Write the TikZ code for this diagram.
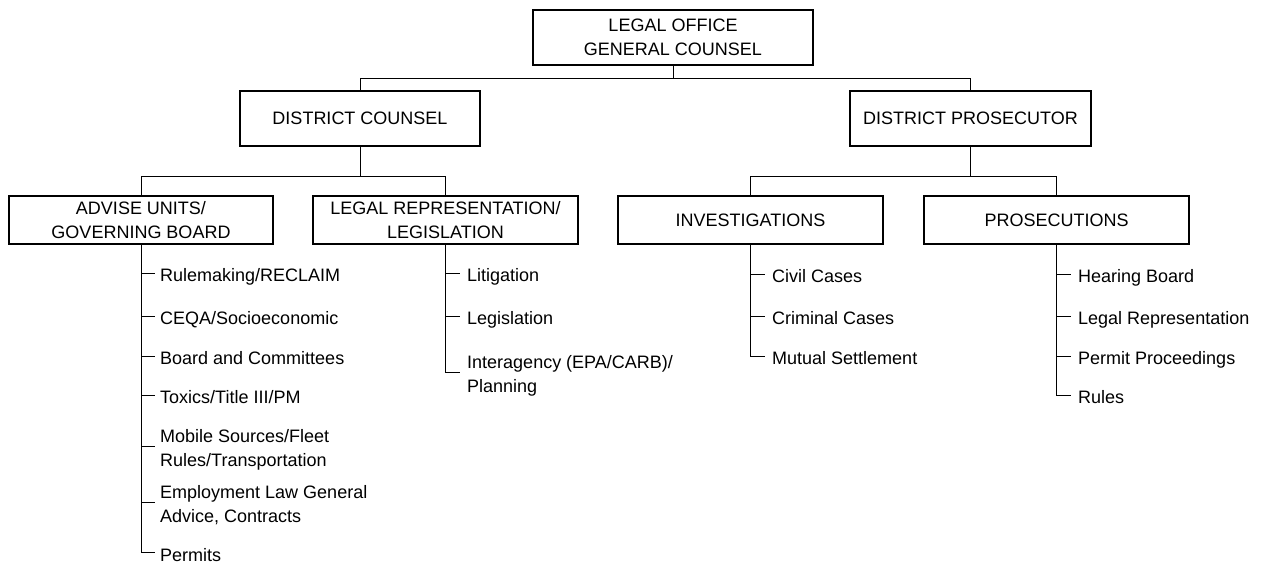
\documentclass[tikz,border=0pt]{standalone}
\usepackage{fontspec}
\setmainfont{Liberation Sans}
\begin{document}
\begin{tikzpicture}[x=1pt,y=-1pt,
  orgbox/.style={draw=black, line width=1.3pt, align=center, inner sep=0pt,
    font=\fontsize{18pt}{24pt}\selectfont},
  item/.style={anchor=base west, align=left, inner sep=0pt,
    font=\fontsize{18pt}{24pt}\selectfont},
  conn/.style={line width=1pt, draw=black}]
\useasboundingbox (0,0) rectangle (1265,565);

% boxes
\node[orgbox, minimum width=280pt, minimum height=55pt] (top) at (673,37.5) {LEGAL OFFICE\\GENERAL COUNSEL};
\node[orgbox, minimum width=240pt, minimum height=55pt] (dc) at (360,118.5) {DISTRICT COUNSEL};
\node[orgbox, minimum width=241pt, minimum height=55pt] (dp) at (970.5,118.5) {DISTRICT PROSECUTOR};
\node[orgbox, minimum width=264pt, minimum height=48pt] (adv) at (141,220) {ADVISE UNITS/\\GOVERNING BOARD};
\node[orgbox, minimum width=265pt, minimum height=48pt] (lrep) at (445.5,220) {LEGAL REPRESENTATION/\\LEGISLATION};
\node[orgbox, minimum width=265pt, minimum height=48pt] (inv) at (750.5,220) {INVESTIGATIONS};
\node[orgbox, minimum width=265pt, minimum height=48pt] (pros) at (1056.5,220) {PROSECUTIONS};

% buses
\coordinate (bus1) at (673,78);
\coordinate (busL) at (360,176);
\coordinate (busR) at (970.5,176);
\draw[conn] (top.south) -- (bus1);
\draw[conn] (dc.north) -- (dc.north |- bus1) -- (dp.north |- bus1) -- (dp.north);
\draw[conn] (dc.south) -- (busL);
\draw[conn] (adv.north) -- (adv.north |- busL) -- (lrep.north |- busL) -- (lrep.north);
\draw[conn] (dp.south) -- (busR);
\draw[conn] (inv.north) -- (inv.north |- busR) -- (pros.north |- busR) -- (pros.north);

% ADVISE list
\coordinate (ta1) at (155,273);
\coordinate (ta2) at (155,316);
\coordinate (ta3) at (155,356);
\coordinate (ta4) at (155,395);
\coordinate (ta5) at (155,446);
\coordinate (ta6) at (155,502);
\coordinate (ta7) at (155,552);
\node[item] (a1) at (160,281.5) {Rulemaking/RECLAIM};
\node[item] (a2) at (160,324.5) {CEQA/Socioeconomic};
\node[item] (a3) at (160,364.5) {Board and Committees};
\node[item] (a4) at (160,403.5) {Toxics/Title III/PM};
\node[item] (a5) at (160,466) {Mobile Sources/Fleet\\Rules/Transportation};
\node[item] (a6) at (160,522) {Employment Law General\\Advice, Contracts};
\node[item] (a7) at (160,561) {Permits};
\draw[conn] (adv.south) |- (ta7);
\foreach \t in {ta1,ta2,ta3,ta4,ta5,ta6} \draw[conn] (adv.south |- \t) -- (\t);

% LEGAL REPRESENTATION list
\coordinate (tl1) at (460,273);
\coordinate (tl2) at (460,316);
\coordinate (tl3) at (460,372);
\node[item] (l1) at (467,281.5) {Litigation};
\node[item] (l2) at (467,324.5) {Legislation};
\node[item] (l3) at (467,392) {Interagency (EPA/CARB)/\\Planning};
\draw[conn] (lrep.south) |- (tl3);
\foreach \t in {tl1,tl2} \draw[conn] (lrep.south |- \t) -- (\t);

% INVESTIGATIONS list
\coordinate (ti1) at (765,274);
\coordinate (ti2) at (765,316);
\coordinate (ti3) at (765,356);
\node[item] (i1) at (772,282.5) {Civil Cases};
\node[item] (i2) at (772,324.5) {Criminal Cases};
\node[item] (i3) at (772,364.5) {Mutual Settlement};
\draw[conn] (inv.south) |- (ti3);
\foreach \t in {ti1,ti2} \draw[conn] (inv.south |- \t) -- (\t);

% PROSECUTIONS list
\coordinate (tp1) at (1071,274);
\coordinate (tp2) at (1071,316);
\coordinate (tp3) at (1071,356);
\coordinate (tp4) at (1071,395);
\node[item] (p1) at (1078,282.5) {Hearing Board};
\node[item] (p2) at (1078,324.5) {Legal Representation};
\node[item] (p3) at (1078,364.5) {Permit Proceedings};
\node[item] (p4) at (1078,403.5) {Rules};
\draw[conn] (pros.south) |- (tp4);
\foreach \t in {tp1,tp2,tp3} \draw[conn] (pros.south |- \t) -- (\t);
\end{tikzpicture}
\end{document}
